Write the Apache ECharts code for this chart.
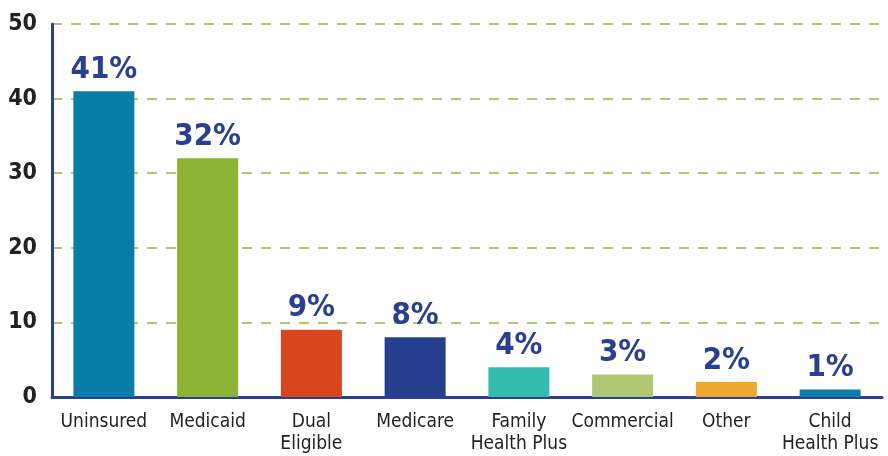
<!DOCTYPE html>
<html>
<head>
<meta charset="utf-8">
<script src="https://cdn.jsdelivr.net/npm/echarts@6/dist/echarts.min.js"></script>
<style>
  html, body { margin: 0; padding: 0; background: #fff; }
  #chart { width: 888px; height: 456px; }
</style>
</head>
<body>
<div id="chart"></div>
<script>
// coverage categories and shares (%)
const categories = ['Uninsured', 'Medicaid', 'Dual\nEligible', 'Medicare', 'Family\nHealth Plus', 'Commercial', 'Other', 'Child\nHealth Plus'];
const shares = [41, 32, 9, 8, 4, 3, 2, 1];
const barColors = ['#0a7ca8', '#8db334', '#d9461e', '#253f8e', '#34bcaf', '#b0c873', '#eda82f', '#0a7ca8'];

const FONT = '"Liberation Sans Narrow", "DejaVu Sans Condensed", sans-serif';

let myChart = echarts.init(document.getElementById('chart'));
myChart.setOption({
    animation: false,
    grid: { left: 52, right: 6, top: 24, bottom: 59, containLabel: false },
    xAxis: {
        type: 'category',
        data: categories,
        axisTick: { show: false },
        axisLine: { lineStyle: { color: '#2a3f8f', width: 3 } },
        axisLabel: {
            interval: 0,
            margin: 14,
            color: '#222',
            fontFamily: FONT,
            fontSize: 19,
            lineHeight: 22
        }
    },
    yAxis: {
        type: 'value',
        min: 0,
        max: 50,
        interval: 10,
        axisLine: { show: true, lineStyle: { color: '#2a3f8f', width: 3 } },
        axisTick: { show: false },
        axisLabel: {
            margin: 15,
            color: '#222',
            fontFamily: FONT,
            fontWeight: 'bold',
            fontSize: 23
        },
        splitLine: {
            show: true,
            lineStyle: { color: '#93bb3a', width: 1.5, type: [10, 9] }
        }
    },
    series: [{
        type: 'bar',
        barWidth: 61,
        data: shares.map((v, i) => ({ value: v, itemStyle: { color: barColors[i] } })),
        label: {
            show: true,
            position: 'top',
            distance: 6,
            color: '#2a3f8f',
            fontFamily: FONT,
            fontWeight: 'bold',
            fontSize: 31,
            formatter: p => p.value + '%'
        }
    }]
});
</script>
</body>
</html>
